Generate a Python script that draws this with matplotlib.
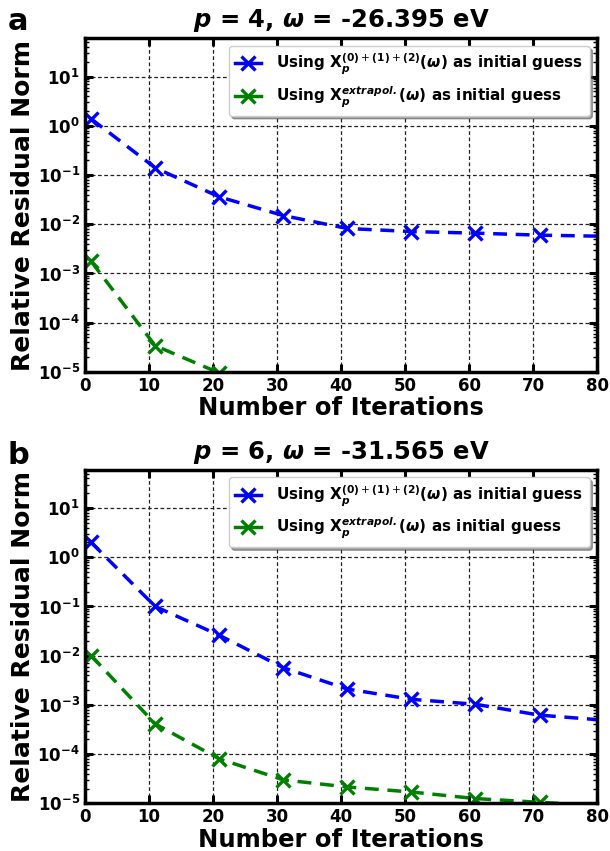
import numpy as np
import matplotlib
matplotlib.use("Agg")
from matplotlib import pyplot as plt
from matplotlib.lines import Line2D

# iterations where the residual was recorded (last one sits just past the axis edge)
iters = [1, 11, 21, 31, 41, 51, 61, 71, 81]

# panel a: p = 4
a_blue = [1.38, 0.14, 0.036, 0.015, 0.0082, 0.0071, 0.0066, 0.0060, 0.0057]
a_green = [1.75e-3, 3.4e-5, 9.5e-6, 3.0e-6]
# panel b: p = 6
b_blue = [2.0, 0.1, 0.026, 5.7e-3, 2.1e-3, 1.3e-3, 1.03e-3, 6.2e-4, 4.9e-4]
b_green = [1.0e-2, 4.1e-4, 8.0e-5, 3.0e-5, 2.15e-5, 1.7e-5, 1.25e-5, 1.05e-5, 9.0e-6]

titles = [r'$\mathbfit{p}$ = 4, $\mathbfit{\omega}$ = -26.395 eV',
          r'$\mathbfit{p}$ = 6, $\mathbfit{\omega}$ = -31.565 eV']
panel_tags = ["a", "b"]

lab_blue = (r'Using X$_{\mathbfit{p}}^{\mathbf{(0)}+\mathbf{(1)}+\mathbf{(2)}}'
            r'\mathbf{(}\mathbfit{\omega}\mathbf{)}$ as initial guess')
lab_green = (r'Using X$_{\mathbfit{p}}^{\mathbfit{extrapol.}}'
             r'\mathbf{(}\mathbfit{\omega}\mathbf{)}$ as initial guess')


def draw(ax, blue, green, title):
  nb = min(len(blue), 8)
  ng = min(len(green), 8)
  ax.semilogy(iters[:len(blue)], blue, color="blue", ls=(0, (4, 2.5)), lw=2.5,
              marker="x", ms=10, mew=2.4, markevery=list(range(nb)))
  ax.semilogy(iters[:len(green)], green, color="green", ls=(0, (4, 2.5)), lw=2.5,
              marker="x", ms=10, mew=2.4, markevery=list(range(ng)))
  ax.set_xlim(0, 80)
  ax.set_ylim(1e-5, 60)
  ax.set_xticks(np.arange(0, 81, 10))
  ax.set_yticks([1e-5, 1e-4, 1e-3, 1e-2, 1e-1, 1e0, 1e1])
  ax.grid(True, which="major", color="#222222", ls=(0, (3, 2)), lw=0.9)
  ax.tick_params(which="major", direction="in", length=6, width=2.2,
                 top=True, right=True, labelsize=12)
  ax.tick_params(which="minor", direction="in", length=3, width=1,
                 top=False, right=True)
  for lbl in ax.get_xticklabels() + ax.get_yticklabels():
    lbl.set_fontweight("bold")
  for s in ax.spines.values():
    s.set_linewidth(2.5)
  ax.set_xlabel("Number of Iterations", fontsize=17.5, fontweight="bold",
                labelpad=1)
  ax.set_ylabel("Relative Residual Norm", fontsize=18, fontweight="bold",
                labelpad=2)
  ax.set_title(title, fontsize=17.5, fontweight="bold", pad=8)
  # legend handles are drawn solid, as in the original
  handles = [Line2D([], [], color="blue", lw=2.5, marker="x", ms=10, mew=2.4),
             Line2D([], [], color="green", lw=2.5, marker="x", ms=10, mew=2.4)]
  leg = ax.legend(handles, [lab_blue, lab_green], loc="upper right",
                  fancybox=True, shadow=True,
                  prop={"weight": "bold", "size": 11}, borderaxespad=0.5,
                  handlelength=1.7, handletextpad=1.0)
  leg.get_frame().set_edgecolor("#cccccc")


def main():
  fig = plt.figure(figsize=(6.1, 8.51), dpi=100)
  ax1 = fig.add_axes([0.139, 0.563, 0.840, 0.392])
  ax2 = fig.add_axes([0.139, 0.056, 0.840, 0.392])
  draw(ax1, a_blue, a_green, titles[0])
  draw(ax2, b_blue, b_green, titles[1])
  fig.text(0.012, 0.975, panel_tags[0], fontsize=22, fontweight="bold",
           va="center")
  fig.text(0.012, 0.465, panel_tags[1], fontsize=22, fontweight="bold",
           va="center")
  fig.savefig("out.png", dpi=100)


if __name__ == '__main__':
  main()
